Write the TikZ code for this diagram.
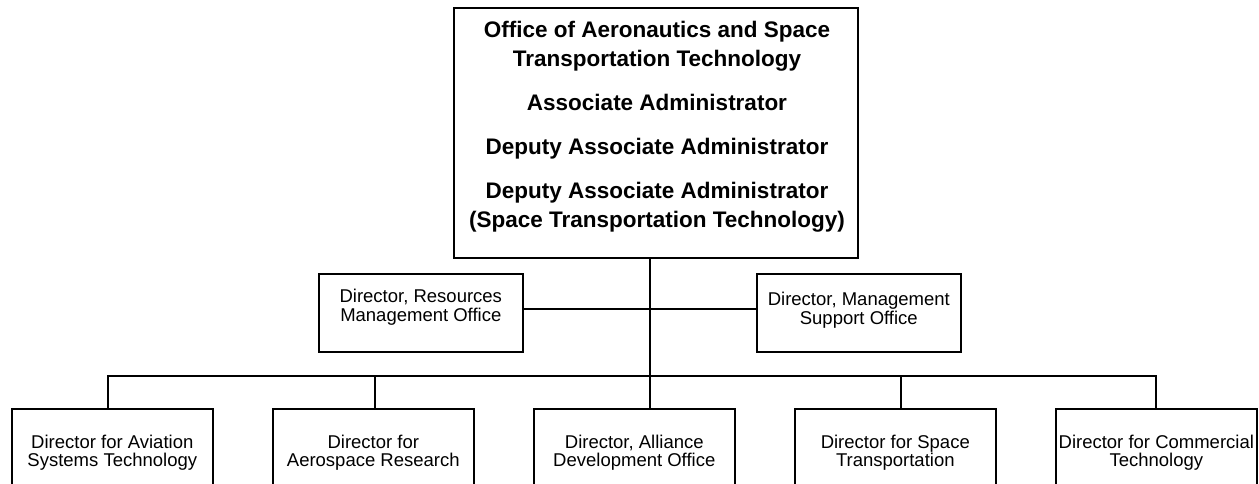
\documentclass[tikz,border=0pt]{standalone}
\usepackage{fontspec}
\setmainfont{Liberation Sans}
\begin{document}
\begin{tikzpicture}[x=1pt,y=-1pt,
  box/.style={draw=black, line width=1.6pt, inner sep=0pt, fill=white},
  link/.style={draw=black, line width=1.6pt, line join=miter},
  lbl/.style={inner sep=0pt, align=center, anchor=north, font=\fontsize{18.5}{18.4}\selectfont},
  ttl/.style={inner sep=0pt, align=center, anchor=north, font=\fontsize{22.5}{29}\selectfont\bfseries}]
\useasboundingbox (0,0) rectangle (1259,484);
\clip (0,0) rectangle (1259,484);
% boxes
\node[box, minimum width=404pt, minimum height=250pt, anchor=north west] (top) at (453,7) {};
\node[box, minimum width=204pt, minimum height=78pt, anchor=north west] (left) at (318,273) {};
\node[box, minimum width=204pt, minimum height=78pt, anchor=north west] (right) at (756,273) {};
\node[box, minimum width=201pt, minimum height=120pt, anchor=north west] (d1) at (11,408) {};
\node[box, minimum width=201pt, minimum height=120pt, anchor=north west] (d2) at (272,408) {};
\node[box, minimum width=201pt, minimum height=120pt, anchor=north west] (d3) at (533,408) {};
\node[box, minimum width=201pt, minimum height=120pt, anchor=north west] (d4) at (794,408) {};
\node[box, minimum width=201pt, minimum height=120pt, anchor=north west] (d5) at (1055,408) {};
% texts
\node[ttl] (ttop) at (657,20.5) {Office of Aeronautics and Space\\Transportation Technology\\[15pt]Associate Administrator\\[15pt]Deputy Associate Administrator\\[15pt]Deputy Associate Administrator\\(Space Transportation Technology)};
\node[lbl] (tl) at (left.north |- 0,289) {Director, Resources\\Management Office};
\node[lbl] (tr) at (right.north |- 0,292) {Director, Management\\Support Office};
\node[lbl] (t1) at (d1.north |- 0,434.5) {Director for Aviation\\Systems Technology};
\node[lbl] (t2) at (d2.north |- 0,434.5) {Director for\\Aerospace Research};
\node[lbl] (t3) at (d3.north |- 0,434.5) {Director, Alliance\\Development Office};
\node[lbl] (t4) at (d4.north |- 0,434.5) {Director for Space\\Transportation};
\node[lbl] (t5) at (d5.north |- 0,434.5) {Director for Commercial\\Technology};
% connector points
\coordinate (hub) at (650,309);
\coordinate (bus) at (650,376);
\coordinate (b1) at (108,376);
\coordinate (b2) at (375,376);
\coordinate (b4) at (901,376);
\coordinate (b5) at (1156,376);
% connectors
\draw[link] (top.south -| bus) -- (bus);
\draw[link] (left.east |- hub) -- (right.west |- hub);
\draw[link] (d1.north -| b1) -- (b1) -- (b5) -- (d5.north -| b5);
\draw[link] (b2) -- (d2.north -| b2);
\draw[link] (bus) -- (d3.north -| bus);
\draw[link] (b4) -- (d4.north -| b4);
\end{tikzpicture}
\end{document}
